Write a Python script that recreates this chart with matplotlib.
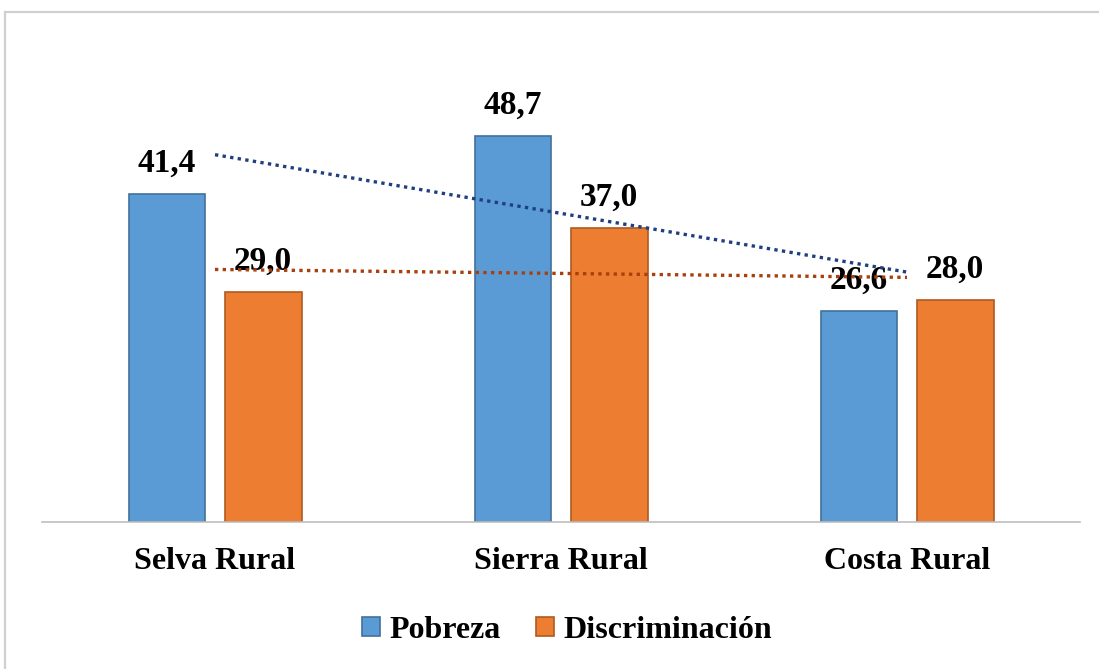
import matplotlib
matplotlib.use('Agg')
import matplotlib.pyplot as plt
import numpy as np
from matplotlib.patches import Rectangle

categories = ['Selva Rural', 'Sierra Rural', 'Costa Rural']
pobreza = [41.4, 48.7, 26.6]
discriminacion = [29.0, 37.0, 28.0]
series_names = ['Pobreza', 'Discriminación']

plt.rcParams['font.family'] = ['Liberation Serif', 'DejaVu Serif']
plt.rcParams['font.weight'] = 'bold'

fig = plt.figure(figsize=(10.99, 6.69), dpi=100)
# outer frame like the source document
fig.patches.append(Rectangle((5 / 1099, -0.1), 1.2, (669 - 12) / 669 + 0.1,
                             transform=fig.transFigure, fill=False,
                             edgecolor='#d0d0d0', linewidth=1.6))

ax = fig.add_axes([42 / 1099, 147 / 669, 1038 / 1099, 476 / 669])
x = np.arange(len(categories))
w = 0.222
off = 0.139

b1 = ax.bar(x - off, pobreza, w, color='#5B9BD5', edgecolor='#41719C', linewidth=1.2,
            label=series_names[0], zorder=2)
b2 = ax.bar(x + off, discriminacion, w, color='#ED7D31', edgecolor='#AE5A21', linewidth=1.2,
            label=series_names[1], zorder=2)

for bars, vals in ((b1, pobreza), (b2, discriminacion)):
    for r, v in zip(bars, vals):
        ax.annotate(f'{v:.1f}'.replace('.', ','), (r.get_x() + r.get_width() / 2, v),
                    xytext=(0, 11), textcoords='offset points', ha='center', va='bottom',
                    fontsize=24, fontweight='bold', zorder=3)

# linear trendlines
for vals, col in ((pobreza, '#1F3F80'), (discriminacion, '#A8400E')):
    k, b = np.polyfit(x, vals, 1)
    ax.plot(x, k * x + b, linestyle=(0, (1, 1.3)), color=col, linewidth=2.4, zorder=4)

ax.set_xlim(-0.5, 2.5)
ax.set_ylim(0, 60)
ax.set_xticks(x)
ax.set_xticklabels(categories, fontsize=23, fontweight='bold')
ax.tick_params(axis='x', length=0, pad=18)
ax.set_yticks([])
for s in ['top', 'right', 'left']:
    ax.spines[s].set_visible(False)
ax.spines['bottom'].set_color('#bfbfbf')
ax.spines['bottom'].set_linewidth(1.2)

leg = fig.legend(handles=[b1, b2], loc='center', bbox_to_anchor=(0.516, 0.058), ncol=2,
                 frameon=False, fontsize=23, handlelength=0.55, handleheight=0.55,
                 handletextpad=0.3, columnspacing=1.1)

fig.savefig('out.png', dpi=100)
